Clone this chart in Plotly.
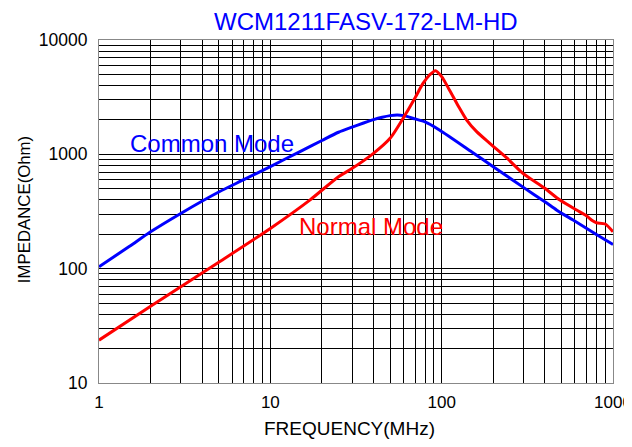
import plotly.graph_objects as go
import numpy as np

title_text = "WCM1211FASV-172-LM-HD"

cm_freq = [1, 1.5, 2, 3, 5, 7, 10, 15, 20, 25, 30, 35, 40, 45, 50, 55, 60, 70, 80, 97, 150, 200, 300, 400, 470, 585, 800, 1000]
cm_imp = [104, 156, 210, 304, 468, 600, 782, 1063, 1322, 1560, 1730, 1880, 2010, 2110, 2180, 2210, 2180, 2040, 1920, 1633, 1048, 778, 514, 385, 325, 266, 199, 163]

nm_freq = [1, 2, 5, 10, 17, 25, 29, 40, 50, 62, 70, 78, 85, 92, 100, 111, 125, 140, 160, 191, 240, 298, 400, 490, 640, 700, 760, 800, 900, 1000]
nm_imp = [23.7, 47, 114, 225, 398, 637, 728, 1020, 1380, 2285, 3133, 4190, 4945, 5394, 4786, 3656, 2650, 1995, 1580, 1248, 930, 682, 505, 398, 314, 290, 262, 252, 246, 210]

x_ticks = [1, 10, 100, 1000]
y_ticks = [10, 100, 1000, 10000]

def grid_vals(lo_exp, hi_exp):
    vals = []
    for e in range(lo_exp, hi_exp):
        for d in range(1, 10):
            vals.append(d * 10 ** e)
    vals.append(10 ** hi_exp)
    return vals

xg = grid_vals(0, 3)
yg = grid_vals(1, 4)
xt = [str(v) if v in x_ticks else "" for v in xg]
yt = [str(v) if v in y_ticks else "" for v in yg]

font = "Liberation Sans, Arial, sans-serif"

# page body has an 8px margin: figure is drawn from (8, 8); keep the page from scrolling
fig = go.Figure()
fig.add_trace(go.Scatter(x=cm_freq, y=cm_imp, mode="lines",
                         line=dict(color="#0000ff", width=3, shape="spline", smoothing=0.7), name="Common Mode"))
fig.add_trace(go.Scatter(x=nm_freq, y=nm_imp, mode="lines",
                         line=dict(color="#ff0000", width=3, shape="spline", smoothing=0.7), name="Normal Mode"))

fig.update_layout(
    width=624, height=431,
    margin=dict(l=91, r=19, t=32, b=56, autoexpand=False),
    paper_bgcolor="white", plot_bgcolor="white",
    showlegend=False,
    font=dict(family=font, size=16, color="black"),
    annotations=[
        dict(text=title_text, xref="paper", yref="paper", x=0.5204, y=1, yshift=18.5, showarrow=False,
             font=dict(size=24, color="#0000ff"), xanchor="center", yanchor="middle"),
        dict(text="FREQUENCY(MHz)", xref="paper", yref="paper", x=0.487, y=0, yshift=-45, showarrow=False,
             font=dict(size=19, color="black"), xanchor="center", yanchor="middle"),
        dict(text="IMPEDANCE(Ohm)", xref="paper", yref="paper", x=0, xshift=-75, y=0.504, showarrow=False,
             textangle=-90, font=dict(size=16.8, color="black"), xanchor="center", yanchor="middle"),
        dict(text="Common Mode", x=np.log10(4.55), y=np.log10(1256), xref="x", yref="y", showarrow=False,
             font=dict(size=24, color="#0000ff"), xanchor="center", yanchor="middle"),
        dict(text="Normal Mode", x=np.log10(38.5), y=np.log10(236), xref="x", yref="y", showarrow=False,
             font=dict(size=24, color="#ff0000"), xanchor="center", yanchor="middle"),
    ],
)
fig.update_xaxes(type="log", range=[0, 3], tickmode="array", tickvals=xg, ticktext=xt, automargin=False,
                 showgrid=True, gridcolor="black", gridwidth=1.3, showline=True, linecolor="#888888",
                 linewidth=1, mirror=True, ticks="", zeroline=False, ticklabelstandoff=4,
                 ticklabeloverflow="allow", tickfont=dict(size=17, color="black"))
fig.update_yaxes(type="log", range=[1, 4], tickmode="array", tickvals=yg, ticktext=yt, automargin=False,
                 showgrid=True, gridcolor="black", gridwidth=1.3, showline=True, linecolor="#888888",
                 linewidth=1, mirror=True, ticks="", zeroline=False, ticklabelstandoff=7,
                 ticklabeloverflow="allow", tickfont=dict(size=17.5, color="black"))

fig.write_html("out.html")
